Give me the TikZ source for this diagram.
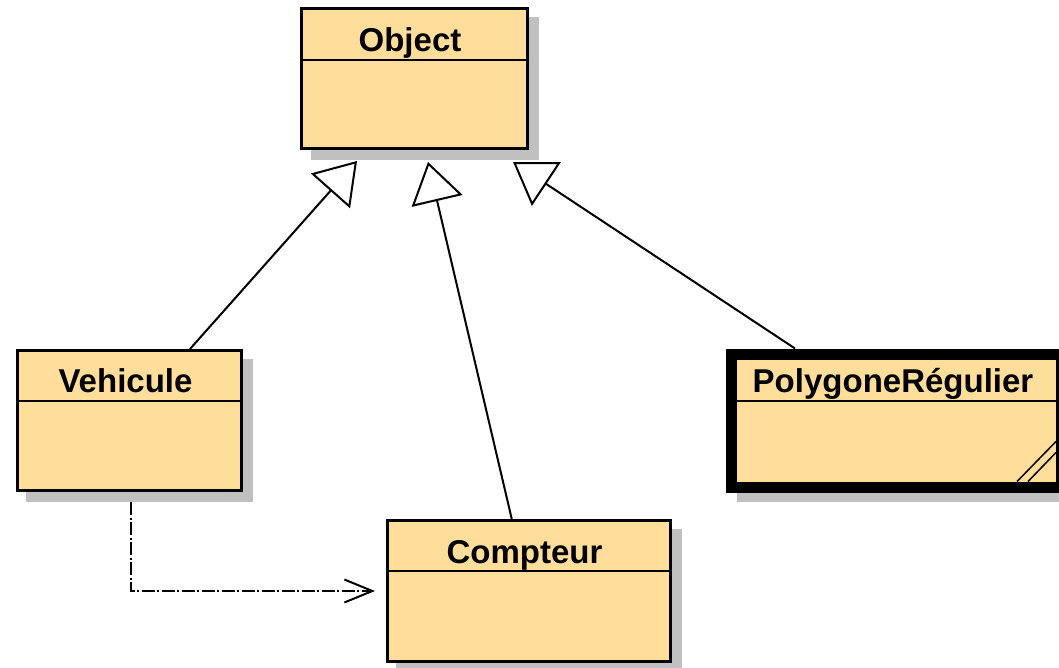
\documentclass[tikz,border=0pt]{standalone}
\usepackage{fontspec}
\setsansfont{Liberation Sans}
\usetikzlibrary{arrows.meta,backgrounds}
\definecolor{clsfill}{RGB}{255,221,155}
\definecolor{shadowgray}{RGB}{192,192,192}
\begin{document}
\begin{tikzpicture}[x=1pt,y=-1pt,
  cls/.style={draw=black, line width=3pt, fill=clsfill, inner sep=0pt, anchor=north west},
  clsname/.style={font=\sffamily\bfseries\fontsize{33}{40}\selectfont, anchor=base, inner sep=0pt},
  divider/.style={line width=2pt},
  inherit/.style={line width=2pt, -{Triangle[open,length=40pt,width=52pt]}},
  depend/.style={line width=2pt, dash pattern=on 13pt off 2.5pt on 2pt off 2.5pt, -{Straight Barb[length=28pt,width=23pt]}},
  boxshadow/.style={fill=shadowgray},
  hatch/.style={line width=1.5pt}
]
\useasboundingbox (0,0) rectangle (1059,668);
\clip (0,0) rectangle (1059,668);

% class boxes
\node[cls, minimum width=226pt, minimum height=140pt] (obj) at (299.5,7) {};
\node[cls, minimum width=224pt, minimum height=140pt] (veh) at (16,349) {};
\node[cls, minimum width=282.5pt, minimum height=141pt] (comp) at (386,519) {};
\node[cls, line width=11pt, minimum width=330pt, minimum height=133pt] (poly) at (726,348.5) {};

% shadows
\begin{scope}[on background layer]
\fill[boxshadow] ([shift={(11,10)}]obj.north west) rectangle ([shift={(10,10)}]obj.south east);
\fill[boxshadow] ([shift={(10,10)}]veh.north west) rectangle ([shift={(10,10)}]veh.south east);
\fill[boxshadow] ([shift={(10,10)}]comp.north west) rectangle ([shift={(10,10)}]comp.south east);
\fill[boxshadow] ([shift={(11,9)}]poly.north west) rectangle ([shift={(10,9)}]poly.south east);
\end{scope}

% dividers
\coordinate (d1) at (0,60);
\coordinate (d2) at (0,401);
\coordinate (d3) at (0,571);
\draw[divider] (obj.west |- d1) -- (obj.east |- d1);
\draw[divider] (veh.west |- d2) -- (veh.east |- d2);
\draw[divider] (comp.west |- d3) -- (comp.east |- d3);
\draw[divider] (poly.west |- d2) -- (poly.east |- d2);

% names
\node[clsname] (objname) at (410,51.5) {Object};
\node[clsname] (vehname) at (125.5,392.3) {Vehicule};
\node[clsname] (compname) at (524.5,563.3) {Compteur};
\node[clsname] (polyname) at (893,392.7) {PolygoneRégulier};

% hatch marks
\coordinate (pc) at ([shift={(-11,-11)}]poly.south east);
\draw[hatch] ([shift={(-39,0)}]pc) -- ([shift={(0,-40)}]pc);
\draw[hatch] ([shift={(-28,0)}]pc) -- ([shift={(0,-29)}]pc);

% generalizations
\draw[inherit] ([xshift=60.5pt]veh.north) -- ([shift={(-57,11)}]obj.south);
\draw[inherit] ([xshift=-17pt]comp.north) -- ([shift={(14,12)}]obj.south);
\draw[inherit] ([xshift=-101.5pt]poly.north) -- ([shift={(99,12)}]obj.south);

% dependency
\draw[depend] ([shift={(1,10)}]veh.south) |- ([xshift=-11pt]comp.west);
\end{tikzpicture}
\end{document}
